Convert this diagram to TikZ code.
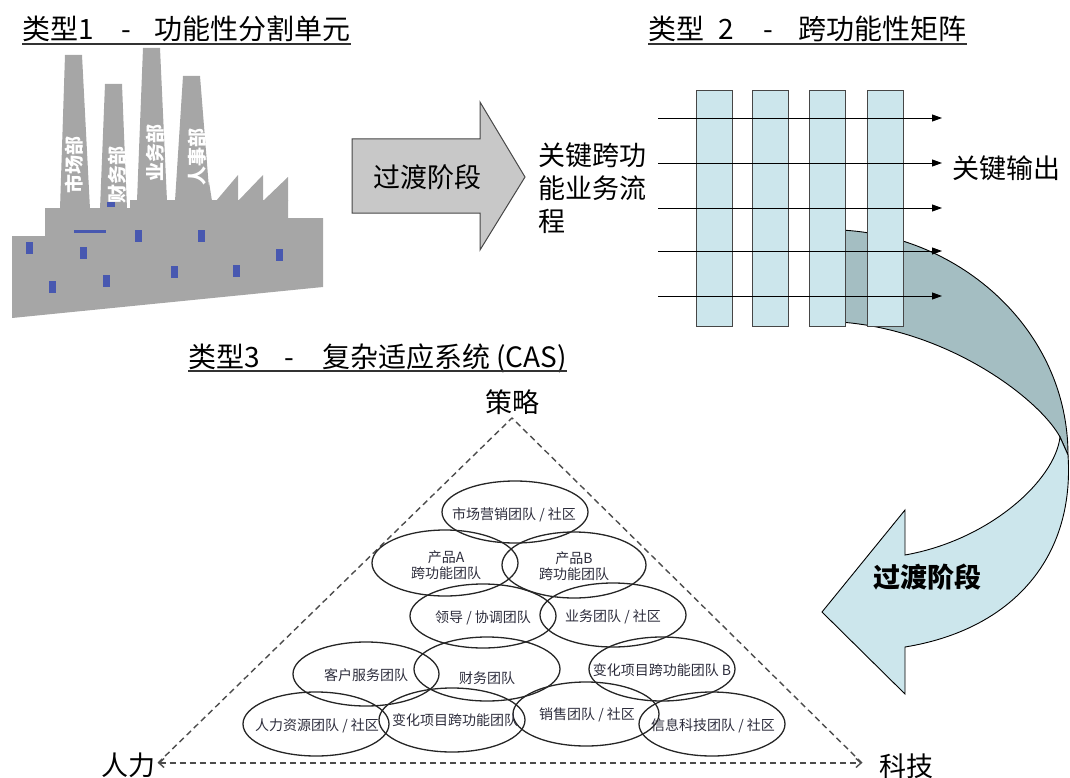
\documentclass[tikz,border=0pt]{standalone}
\usepackage{fontspec}
\setmainfont{Noto Sans CJK SC}
\usetikzlibrary{arrows.meta}

\definecolor{factorygray}{RGB}{166,166,166}
\definecolor{windowblue}{RGB}{72,88,176}
\definecolor{colblue}{RGB}{204,230,236}
\definecolor{backteal}{RGB}{164,190,194}
\definecolor{arrowgray}{RGB}{200,200,200}
\definecolor{edgegray}{RGB}{70,70,70}
\definecolor{teamtext}{RGB}{45,45,60}

\begin{document}
\begin{tikzpicture}[x=1pt,y=-1pt,
  title/.style={anchor=base west, inner sep=0pt, font=\fontsize{28}{32}\selectfont},
  uline/.style={line width=1.3pt, draw=black!80},
  win/.style={fill=windowblue, draw=none},
  chimlabel/.style={rotate=90, text=white, inner sep=0pt, font=\fontsize{19}{21}\selectfont\bfseries},
  bigtext/.style={inner sep=0pt, font=\fontsize{27}{33}\selectfont},
  column/.style={draw=edgegray, fill=colblue, line width=0.9pt},
  flow/.style={-{Triangle[length=10pt,width=7pt]}, line width=0.9pt},
  ring/.style={draw=black!85, line width=1.3pt},
  teamlabel/.style={inner sep=0pt, align=center, text=teamtext, font=\fontsize{14}{16}\selectfont},
  tri/.style={draw=black!70, line width=1.4pt, dash pattern=on 6pt off 4pt},
  corner/.style={{Straight Barb[length=5pt,width=9pt]}-{Straight Barb[length=5pt,width=9pt]}}
]
\useasboundingbox (0,0) rectangle (1070,778);

% ---------- type 1: the factory ----------
\node[title] (title1) at (22,40) {类型1\hspace{28pt}-\hspace{23pt}功能性分割单元};
\draw[uline] ([yshift=-4pt]title1.base west) -- ([yshift=-4pt]title1.base east);

\begin{scope}[fill=factorygray]
  \fill (12,236) -- (45,236) -- (45,208) -- (130,208) -- (130,200) -- (288,200)
        -- (288,218) -- (323,218) -- (323,287) -- (12,318) -- cycle;
  % chimneys
  \fill (60,209) -- (65,55) -- (82,55) -- (90,209) -- cycle;
  \fill (100,209) -- (105,84) -- (122,84) -- (127,209) -- cycle;
  \fill (137,201) -- (143,48) -- (160,48) -- (167,201) -- cycle;
  \fill (175,201) -- (183,76) -- (200,76) -- (210,201) -- cycle;
  % saw-tooth roof
  \fill (205,201) -- (209,182) -- (212,201) -- cycle;
  \fill (216,201) -- (238,175) -- (238,201) -- cycle;
  \fill (238,201) -- (263,175) -- (263,201) -- cycle;
  \fill (263,201) -- (288,177) -- (288,201) -- cycle;
\end{scope}
% windows
\foreach \wx/\wy in {29/248, 52/287, 83/253, 106/281, 138/236, 174/272, 201/236, 236/271, 279/255}
  \fill[win] (\wx-3.5,\wy-6) rectangle (\wx+3.5,\wy+6);
\fill[win] (74,229.5) rectangle (106,232.5);
\fill[win] (107,202) rectangle (115,207);

\node[chimlabel] (dept1) at (74,165) {市场部};
\node[chimlabel] (dept2) at (117,175) {财务部};
\node[chimlabel] (dept3) at (155,153) {业务部};
\node[chimlabel] (dept4) at (197,157) {人事部};

% ---------- transition arrow 1 ----------
\filldraw[fill=arrowgray, draw=edgegray, line width=1pt]
  (352,139) -- (480,139) -- (480,102) -- (525,177) -- (480,250) -- (480,213) -- (352,213) -- cycle;
\node[bigtext] (stage1) at (427,177) {过渡阶段};

\node[bigtext, anchor=north west, align=left] (process) at (538,143) {关键跨功\\能业务流\\程};

% ---------- type 2: the matrix ----------
\node[title] (title2) at (648,40) {类型\hspace{14pt}2\hspace{30pt}-\hspace{25pt}跨功能性矩阵};
\draw[uline] ([yshift=-4pt]title2.base west) -- ([yshift=-4pt]title2.base east);

% transition arrow 2 (back face, then front face)
\filldraw[fill=backteal, draw=black, line width=0.9pt]
  (840,230) .. controls (960,235) and (1068,330) .. (1068,455) -- (1060,437)
  .. controls (1040,400) and (950,330) .. (840,322) -- cycle;
\filldraw[fill=colblue, draw=black, line width=0.9pt]
  (1060,437) .. controls (1055,480) and (990,540) .. (905,555) -- (905,510) -- (822,612)
  -- (905,694) -- (905,647) .. controls (1010,630) and (1075,560) .. (1068,455) -- cycle;
\node[bigtext, font=\fontsize{27}{33}\selectfont\bfseries] (stage2) at (927,577) {过渡阶段};

% functional columns
\foreach \cx in {696,752,809,867}
  \draw[column] (\cx,90) rectangle (\cx+36,326);

% process flows
\foreach \k/\fy in {1/118, 2/163, 3/208, 4/251, 5/296} {
  \coordinate (in\k) at (658,\fy);
  \coordinate (out\k) at (942,\fy);
  \draw[flow] (in\k) -- (out\k);
}
\node[bigtext] (output) at (1006,168) {关键输出};

% ---------- type 3: complex adaptive system ----------
\node[title] (title3) at (188,367) {类型3\hspace{25pt}-\hspace{28pt}复杂适应系统\hspace{6pt}(CAS)};
\draw[uline] ([yshift=-4pt]title3.base west) -- ([yshift=-4pt]title3.base east);

\coordinate (apex) at (512,418);
\coordinate (hr) at (158,763);
\coordinate (tech) at (862,763);
\draw[tri] (hr) -- (apex) -- (tech);
\draw[tri, corner] (hr) -- (tech);

\node[bigtext] (strategy) at (512,402) {策略};
\node[bigtext] (people) at (128,765) {人力};
\node[bigtext] (technology) at (906,766) {科技};

% teams and communities
\draw[ring] (515,512) ellipse [x radius=73pt, y radius=31pt];
\draw[ring] (445,563) ellipse [x radius=73pt, y radius=33pt];
\draw[ring] (574,565) ellipse [x radius=72pt, y radius=33pt];
\draw[ring] (483,616) ellipse [x radius=73pt, y radius=32pt];
\draw[ring] (613,615) ellipse [x radius=73pt, y radius=32pt];
\draw[ring] (366,674) ellipse [x radius=73pt, y radius=32pt];
\draw[ring] (487,669) ellipse [x radius=73pt, y radius=32pt];
\draw[ring] (662,669) ellipse [x radius=73pt, y radius=32pt];
\draw[ring] (316,724) ellipse [x radius=73pt, y radius=32pt];
\draw[ring] (452,720) ellipse [x radius=73pt, y radius=32pt];
\draw[ring] (586,714) ellipse [x radius=73pt, y radius=32pt];
\draw[ring] (712,724) ellipse [x radius=73pt, y radius=32pt];

\node[teamlabel] (team1) at (514,515) {市场营销团队 / 社区};
\node[teamlabel] (team2) at (446,565) {产品A\\跨功能团队};
\node[teamlabel] (team3) at (574,566) {产品B\\跨功能团队};
\node[teamlabel] (team4) at (483,618) {领导 / 协调团队};
\node[teamlabel] (team5) at (613,617) {业务团队 / 社区};
\node[teamlabel] (team6) at (366,675) {客户服务团队};
\node[teamlabel] (team7) at (487,678) {财务团队};
\node[teamlabel] (team8) at (662,670) {变化项目跨功能团队 B};
\node[teamlabel] (team9) at (317,726) {人力资源团队 / 社区};
\node[teamlabel] (team10) at (455,720) {变化项目跨功能团队};
\node[teamlabel] (team11) at (587,715) {销售团队 / 社区};
\node[teamlabel] (team12) at (713,726) {信息科技团队 / 社区};
\end{tikzpicture}
\end{document}
